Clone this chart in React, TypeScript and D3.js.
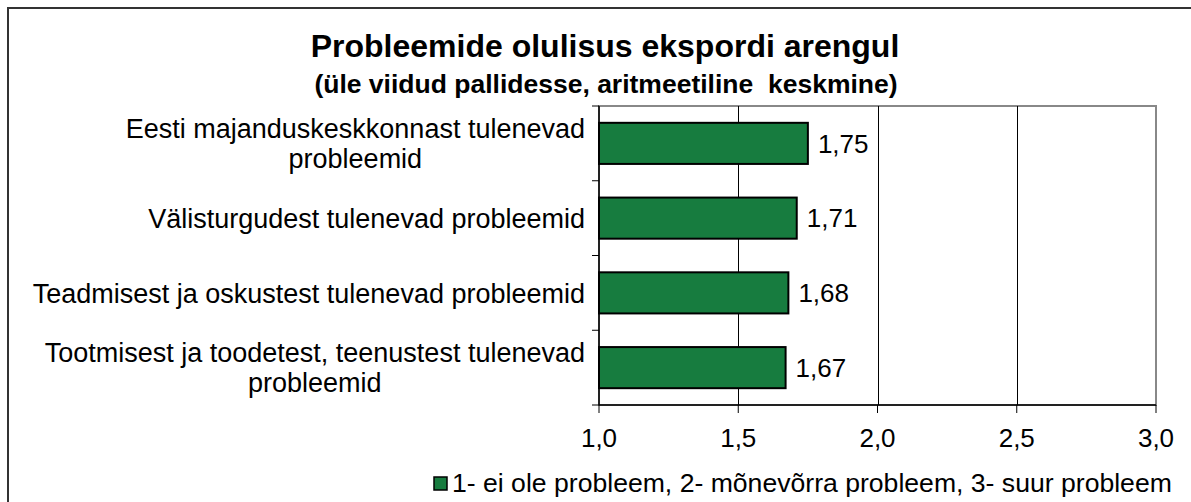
import React, { useEffect, useRef } from 'react';
import * as d3 from 'd3';

const categories = [
  ['Eesti majanduskeskkonnast tulenevad', 'probleemid'],
  ['Välisturgudest tulenevad probleemid'],
  ['Teadmisest ja oskustest tulenevad probleemid'],
  ['Tootmisest ja toodetest, teenustest tulenevad', 'probleemid'],
];
const values = [1.75, 1.71, 1.68, 1.67];
const xTicks = [1.0, 1.5, 2.0, 2.5, 3.0];
const legendLabel = '1- ei ole probleem, 2- mõnevõrra probleem, 3- suur probleem';

const W = 1191;
const H = 502;

function App() {
  const svgRef = useRef<SVGSVGElement>(null);

  useEffect(() => {
    if (!svgRef.current) return;
    const svg = d3.select(svgRef.current);
    svg.selectAll('*').remove();

    const font = 'Arial, "Liberation Sans", sans-serif';
    const fs = '27px';
    const plot = { left: 599, right: 1156, top: 106, bottom: 405 };

    // outer chart border
    svg.append('rect')
      .attr('x', 8).attr('y', 8)
      .attr('width', W + 20).attr('height', H + 20)
      .attr('fill', 'white')
      .attr('stroke', '#333').attr('stroke-width', 2);

    const x = d3.scaleLinear().domain([1, 3]).range([plot.left, plot.right]);
    const y = d3.scaleBand<number>()
      .domain(d3.range(values.length))
      .range([plot.top, plot.bottom])
      .paddingInner(0.45).paddingOuter(0.225);
    const yOuter = d3.scaleBand<number>()
      .domain(d3.range(values.length))
      .range([plot.top, plot.bottom]);

    // plot frame (gray top/right)
    svg.append('rect')
      .attr('x', plot.left).attr('y', plot.top)
      .attr('width', plot.right - plot.left).attr('height', plot.bottom - plot.top)
      .attr('fill', 'none').attr('stroke', '#888').attr('stroke-width', 2);

    // gridlines
    svg.append('g').selectAll('line')
      .data(xTicks.slice(1, -1))
      .enter().append('line')
      .attr('x1', d => Math.round(x(d)) + 0.5).attr('x2', d => Math.round(x(d)) + 0.5)
      .attr('y1', plot.top).attr('y2', plot.bottom)
      .attr('stroke', '#000').attr('stroke-width', 1);

    // bars
    svg.append('g').selectAll('rect')
      .data(values)
      .enter().append('rect')
      .attr('x', x(1))
      .attr('y', (_, i) => y(i)!)
      .attr('width', d => x(d) - x(1))
      .attr('height', y.bandwidth())
      .attr('fill', '#177c3f')
      .attr('stroke', '#000').attr('stroke-width', 2);

    // value labels
    svg.append('g').selectAll('text')
      .data(values)
      .enter().append('text')
      .attr('x', d => x(d) + 10)
      .attr('y', (_, i) => y(i)! + y.bandwidth() / 2)
      .attr('dy', '0.36em')
      .style('font-family', font).style('font-size', '26px')
      .text(d => d.toFixed(2).replace('.', ','));

    // left axis
    const yAxis = svg.append('g');
    yAxis.append('line')
      .attr('x1', plot.left).attr('x2', plot.left)
      .attr('y1', plot.top).attr('y2', plot.bottom)
      .attr('stroke', '#000').attr('stroke-width', 1.5);
    const boundaries = [...d3.range(values.length).map(i => yOuter(i)!), plot.bottom];
    yAxis.selectAll('line.tick')
      .data(boundaries)
      .enter().append('line')
      .attr('class', 'tick')
      .attr('x1', plot.left - 7).attr('x2', plot.left)
      .attr('y1', d => d).attr('y2', d => d)
      .attr('stroke', '#000').attr('stroke-width', 1);

    // category labels: block right-aligned at 585, lines centred inside block
    categories.forEach((lines, i) => {
      const cy = yOuter(i)! + yOuter.bandwidth() / 2;
      const lh = 30;
      const t = svg.append('text')
        .style('font-family', font).style('font-size', fs);
      lines.forEach((line, j) => {
        const offset = (j - (lines.length - 1) / 2) * lh;
        t.append('tspan')
          .attr('x', 585)
          .attr('y', cy + offset)
          .attr('dy', '0.36em')
          .attr('text-anchor', 'middle')
          .text(line);
      });
      const bbox = (t.node() as SVGTextElement).getBBox();
      t.selectAll('tspan').attr('x', 585 - bbox.width / 2);
    });

    // bottom axis
    const xAxis = svg.append('g');
    xAxis.append('line')
      .attr('x1', plot.left).attr('x2', plot.right)
      .attr('y1', plot.bottom).attr('y2', plot.bottom)
      .attr('stroke', '#000').attr('stroke-width', 1.5);
    xAxis.selectAll('line.tick')
      .data(xTicks)
      .enter().append('line')
      .attr('class', 'tick')
      .attr('x1', d => x(d)).attr('x2', d => x(d))
      .attr('y1', plot.bottom).attr('y2', plot.bottom + 8)
      .attr('stroke', '#000').attr('stroke-width', 1);
    xAxis.selectAll('text')
      .data(xTicks)
      .enter().append('text')
      .attr('x', d => x(d))
      .attr('y', 447)
      .attr('text-anchor', 'middle')
      .style('font-family', font).style('font-size', '26px')
      .text(d => d.toFixed(1).replace('.', ','));

    // titles
    svg.append('text')
      .attr('x', 605).attr('y', 57)
      .attr('text-anchor', 'middle')
      .style('font-family', font).style('font-size', '32px').style('font-weight', 'bold')
      .text('Probleemide olulisus ekspordi arengul');
    svg.append('text')
      .attr('x', 606).attr('y', 93)
      .attr('text-anchor', 'middle')
      .attr('xml:space', 'preserve')
      .style('white-space', 'pre')
      .style('font-family', font).style('font-size', '26.5px').style('font-weight', 'bold')
      .text('(üle viidud pallidesse, aritmeetiline  keskmine)');

    // legend
    svg.append('rect')
      .attr('x', 434).attr('y', 477)
      .attr('width', 13).attr('height', 13)
      .attr('fill', '#177c3f')
      .attr('stroke', '#000').attr('stroke-width', 1.5);
    svg.append('text')
      .attr('x', 452).attr('y', 492)
      .style('font-family', font).style('font-size', '26.6px')
      .text(legendLabel);
  }, []);

  return (
    <svg ref={svgRef} width={W} height={H}
      style={{ position: 'absolute', left: 0, top: 0, display: 'block' }} />
  );
}

export default App;
